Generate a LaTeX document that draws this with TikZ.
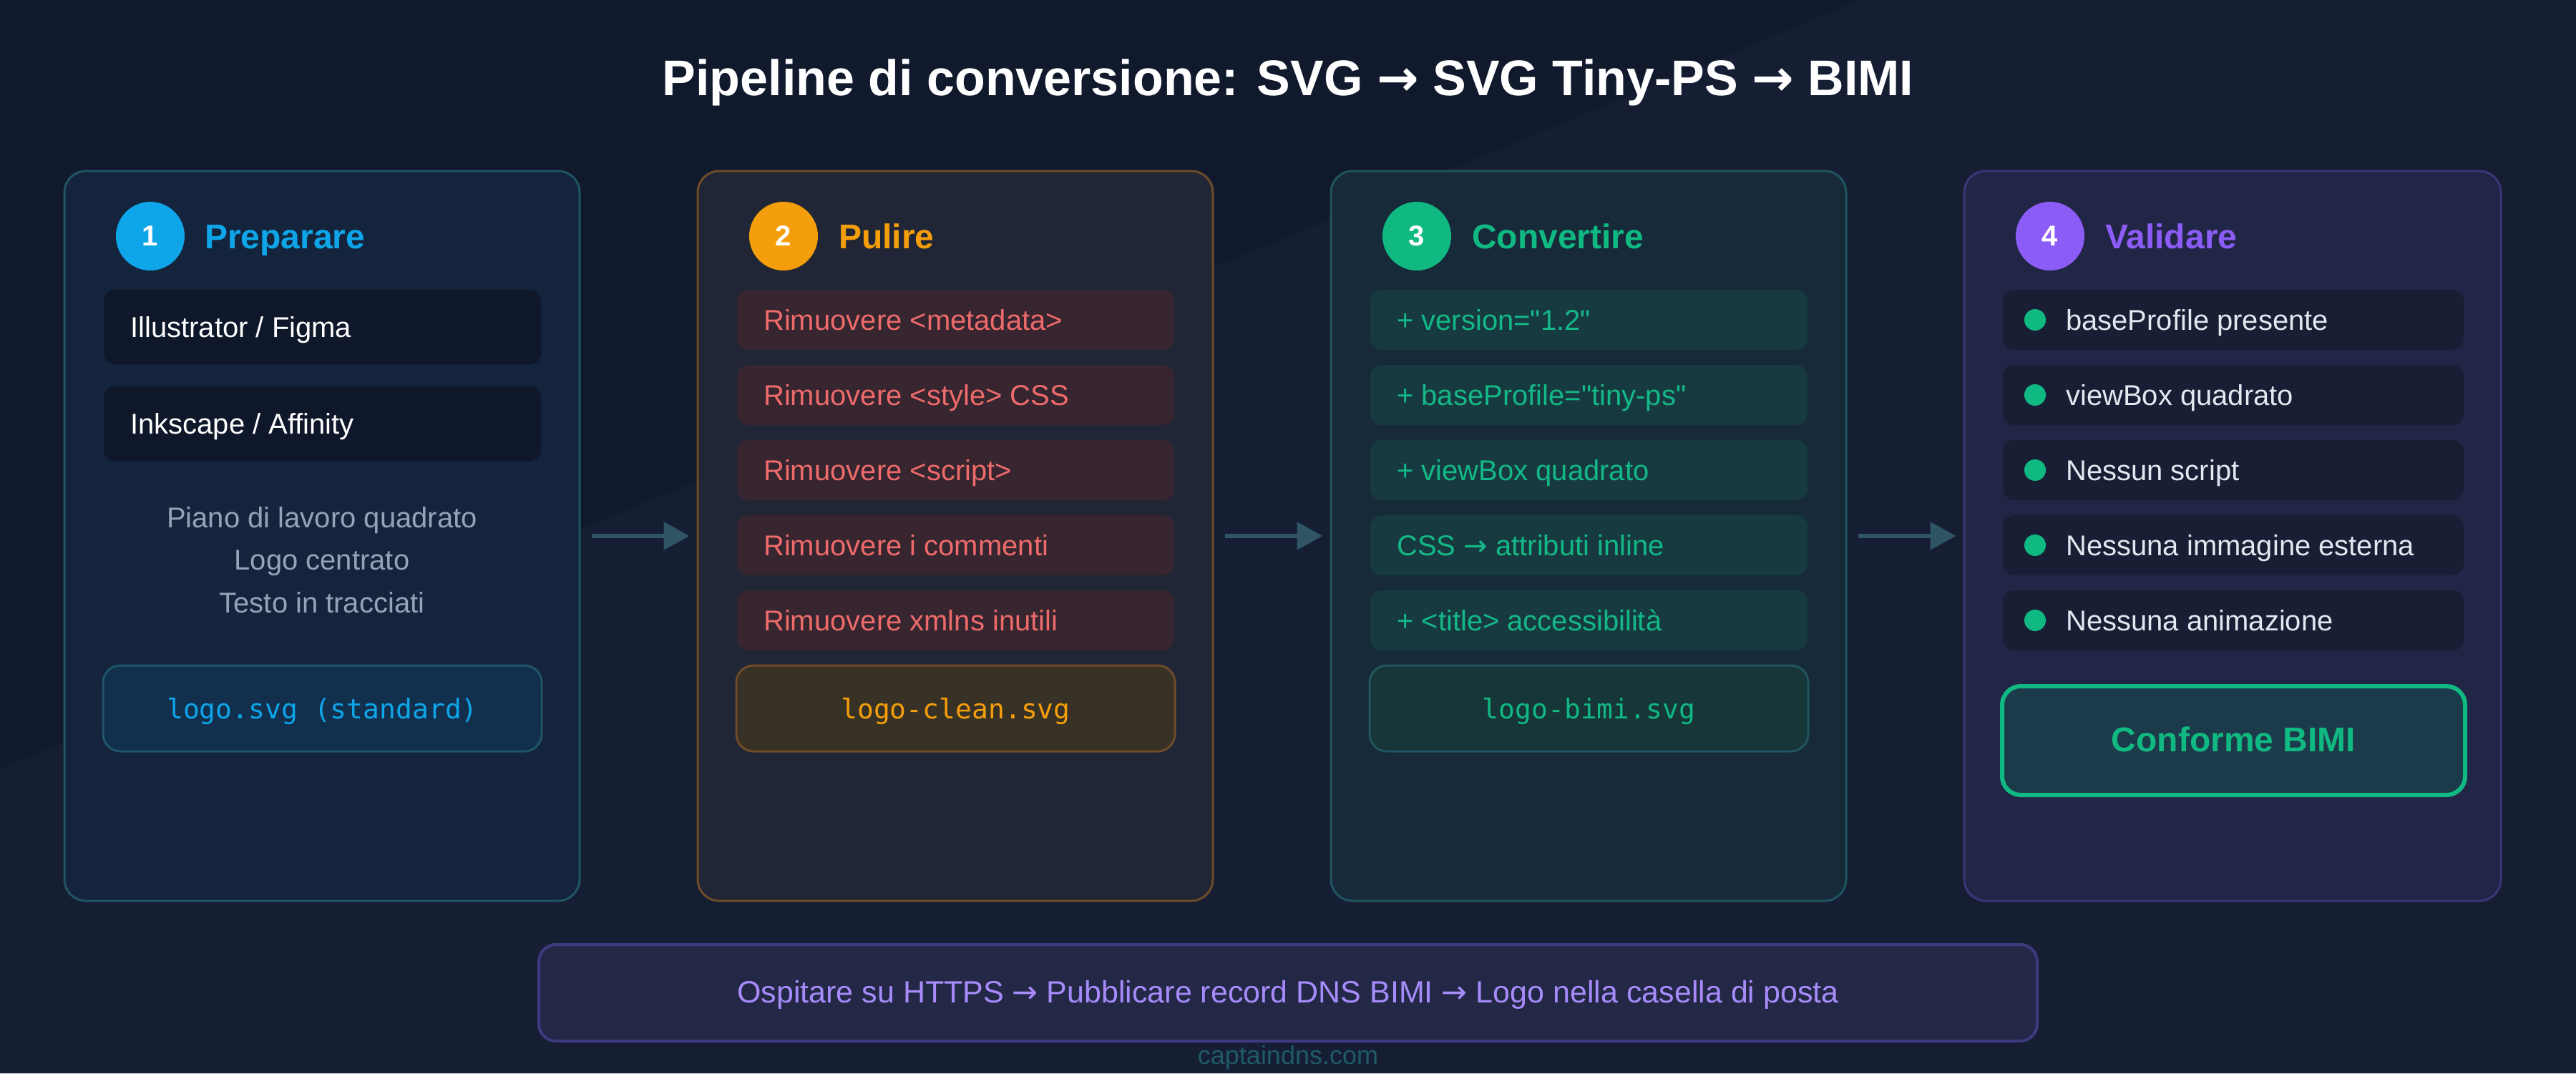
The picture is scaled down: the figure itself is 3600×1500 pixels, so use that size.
\documentclass[tikz,border=0pt]{standalone}
\usepackage{fontspec}
\setmainfont{Liberation Sans}[Ligatures=TeXOff]
\newfontfamily\monof{DejaVu Sans Mono}[Ligatures=TeXOff]
\newfontfamily\arrowf{DejaVu Sans}
\usetikzlibrary{arrows.meta}
\newcommand\myfs[1]{\fontsize{#1}{#1}\selectfont}
\newcommand\myarr{{\arrowf →}}
\definecolor{bgA}{HTML}{111A2D}
\definecolor{bgB}{HTML}{151E33}
\definecolor{cBlue}{HTML}{0EA5E9}
\definecolor{cOrange}{HTML}{F59E0B}
\definecolor{cGreen}{HTML}{10B981}
\definecolor{cPurple}{HTML}{8B5CF6}
\definecolor{cardAfill}{HTML}{14243D}
\definecolor{cardAline}{HTML}{1F5565}
\definecolor{cardBfill}{HTML}{212636}
\definecolor{cardBline}{HTML}{6E4C2A}
\definecolor{cardCfill}{HTML}{172A3A}
\definecolor{cardCline}{HTML}{1F5560}
\definecolor{cardDfill}{HTML}{222646}
\definecolor{cardDline}{HTML}{3C3678}
\definecolor{itemA}{HTML}{0F172A}
\definecolor{itemB}{HTML}{37252F}
\definecolor{itemC}{HTML}{163A40}
\definecolor{itemD}{HTML}{181E34}
\definecolor{txtB}{HTML}{EE6B6B}
\definecolor{txtC}{HTML}{14B886}
\definecolor{txtD}{HTML}{E2E8F0}
\definecolor{grayT}{HTML}{94A3B8}
\definecolor{fileAfill}{HTML}{12304D}
\definecolor{fileAline}{HTML}{1F5568}
\definecolor{fileBfill}{HTML}{383226}
\definecolor{fileCfill}{HTML}{163638}
\definecolor{confFill}{HTML}{1C3B4A}
\definecolor{botFill}{HTML}{232847}
\definecolor{botLine}{HTML}{3F3A80}
\definecolor{botTxt}{HTML}{A78BFA}
\definecolor{footT}{HTML}{1F5A66}
\definecolor{arrowC}{HTML}{2F5464}
\begin{document}
\begin{tikzpicture}[x=1pt,y=-1pt,
  card/.style={draw, line width=3pt, rounded corners=30pt, minimum height=1020pt, inner sep=0pt},
  badge/.style={circle, minimum size=96pt, inner sep=0pt, text=white, font=\bfseries\myfs{40}},
  head/.style={anchor=base west, inner sep=0pt, font=\bfseries\myfs{48}},
  itembox/.style={rounded corners=16pt, minimum width=611pt, minimum height=84pt, inner sep=0pt},
  bigitem/.style={itembox, minimum height=105pt},
  itxt/.style={anchor=base west, inner sep=0pt, font=\myfs{40}},
  gtxt/.style={anchor=base, inner sep=0pt, font=\myfs{40}, text=grayT},
  filebox/.style={draw, line width=3pt, rounded corners=24pt, minimum width=613pt, minimum height=120pt, inner sep=0pt},
  ftxt/.style={anchor=base, inner sep=0pt, font=\monof\myfs{38}},
  dot/.style={circle, fill=cGreen, minimum size=30pt, inner sep=0pt},
  flow/.style={draw=arrowC, line width=6pt, -{Triangle[length=36pt,width=38pt]}, shorten <=15pt, shorten >=10pt}
]
\useasboundingbox (0,0) rectangle (3600,1500);
\fill[bgA] (0,0) rectangle (3600,1500);
\fill[bgB] (0,1075) -- (2600,0) -- (3600,0) -- (3600,1500) -- (0,1500) -- cycle;

% title
\node[anchor=base, inner sep=0pt, text=white, font=\bfseries\myfs{70}] (title) at (1800,133) {Pipeline di conversione: SVG \myarr{} SVG Tiny-PS \myarr{} BIMI};

% cards
\node[card, fill=cardAfill, draw=cardAline, minimum width=720pt] (c1) at (450,749) {};
\node[card, fill=cardBfill, draw=cardBline, minimum width=720pt] (c2) at (1335,749) {};
\node[card, fill=cardCfill, draw=cardCline, minimum width=720pt] (c3) at (2220,749) {};
\node[card, fill=cardDfill, draw=cardDline, minimum width=750pt] (c4) at (3120,749) {};

% arrows
\draw[flow] (c1) -- (c2);
\draw[flow] (c2) -- (c3);
\draw[flow] (c3) -- (c4);

% headers
\node[badge, fill=cBlue] (b1) at (210,330) {1};
\node[head, text=cBlue] (h1) at (286,347) {Preparare};
\node[badge, fill=cOrange] (b2) at (1095,330) {2};
\node[head, text=cOrange] (h2) at (1172,347) {Pulire};
\node[badge, fill=cGreen] (b3) at (1980,330) {3};
\node[head, text=cGreen] (h3) at (2057,347) {Convertire};
\node[badge, fill=cPurple] (b4) at (2865,330) {4};
\node[head, text=cPurple] (h4) at (2942,347) {Validare};

% card 1
\node[bigitem, fill=itemA] (a1) at (450.5,457) {};
\node[itxt, text=white] (a1t) at (182,471) {Illustrator / Figma};
\node[bigitem, fill=itemA] (a2) at (450.5,592) {};
\node[itxt, text=white] (a2t) at (182,606) {Inkscape / Affinity};
\node[gtxt] (g1) at (450,737) {Piano di lavoro quadrato};
\node[gtxt] (g2) at (450,796) {Logo centrato};
\node[gtxt] (g3) at (450,856) {Testo in tracciati};
\node[filebox, fill=fileAfill, draw=fileAline] (f1) at (450.5,990) {};
\node[ftxt, text=cBlue] (f1t) at (450.5,1004) {logo.svg (standard)};

% card 2
\foreach \i/\y/\t in {1/447/{Rimuovere <metadata>}, 2/552/{Rimuovere <style> CSS}, 3/657/{Rimuovere <script>}, 4/762/{Rimuovere i commenti}, 5/867/{Rimuovere xmlns inutili}}{
  \node[itembox, fill=itemB] (p\i) at (1335.5,\y) {};
  \node[itxt, text=txtB] (p\i t) at (1067,\y+14) {\t};
}
\node[filebox, fill=fileBfill, draw=cardBline] (f2) at (1335.5,990) {};
\node[ftxt, text=cOrange] (f2t) at (1335.5,1004) {logo-clean.svg};

% card 3
\foreach \i/\y/\t in {1/447/{+ version="1.2"}, 2/552/{+ baseProfile="tiny-ps"}, 3/657/{+ viewBox quadrato}, 4/762/{CSS \myarr{} attributi inline}, 5/867/{+ <title> accessibilità}}{
  \node[itembox, fill=itemC] (v\i) at (2220.5,\y) {};
  \node[itxt, text=txtC] (v\i t) at (1952,\y+14) {\t};
}
\node[filebox, fill=fileCfill, draw=cardCline] (f3) at (2220.5,990) {};
\node[ftxt, text=cGreen] (f3t) at (2220.5,1004) {logo-bimi.svg};

% card 4
\foreach \i/\y/\t in {1/447/{baseProfile presente}, 2/552/{viewBox quadrato}, 3/657/{Nessun script}, 4/762/{Nessuna immagine esterna}, 5/867/{Nessuna animazione}}{
  \node[itembox, fill=itemD, minimum width=644pt] (k\i) at (3121,\y) {};
  \node[dot] (d\i) at (2844,\y) {};
  \node[itxt, text=txtD] (k\i t) at (2887,\y+14) {\t};
}
\node[draw=cGreen, line width=6pt, fill=confFill, rounded corners=26pt, minimum width=647pt, minimum height=152pt, inner sep=0pt] (conf) at (3121.5,1035) {};
\node[anchor=base, inner sep=0pt, text=cGreen, font=\bfseries\myfs{48}] (conft) at (3121.5,1050) {Conforme BIMI};

% bottom
\node[draw=botLine, line width=4pt, fill=botFill, rounded corners=24pt, minimum width=2094pt, minimum height=135pt, inner sep=0pt] (bot) at (1800,1387.5) {};
\node[anchor=base, inner sep=0pt, text=botTxt, font=\myfs{43}] (bott) at (1800,1401) {Ospitare su HTTPS \myarr{} Pubblicare record DNS BIMI \myarr{} Logo nella casella di posta};
\node[anchor=base, inner sep=0pt, text=footT, font=\myfs{36}] (foot) at (1800,1487) {captaindns.com};
\end{tikzpicture}
\end{document}
